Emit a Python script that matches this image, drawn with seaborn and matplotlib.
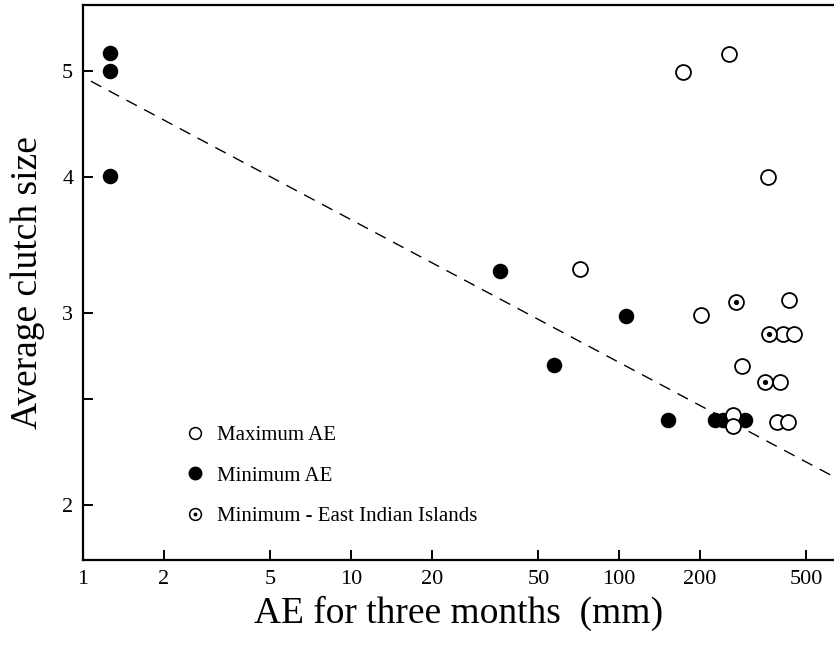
import matplotlib
matplotlib.use("Agg")
from matplotlib import pyplot as plt
from matplotlib.lines import Line2D
from matplotlib.ticker import NullLocator
import pandas as pd
import seaborn as sns

# values (AE in mm, clutch size)
max_ae = [257, 173, 360, 71.5, 202, 431, 409, 450, 288, 399, 266, 266, 389, 427]
max_clutch = [5.19, 4.99, 4.0, 3.29, 2.99, 3.08, 2.87, 2.87, 2.68, 2.59, 2.42, 2.36, 2.38, 2.38]
min_ae = [1.26, 1.26, 1.26, 36, 106, 57, 152, 228, 244, 295]
min_clutch = [5.20, 5.00, 4.01, 3.28, 2.98, 2.69, 2.39, 2.39, 2.39, 2.39]
ei_ae = [273, 363, 351]
ei_clutch = [3.07, 2.87, 2.59]

# fitted power line: clutch = a * AE^b
fit_a, fit_b = 4.94, -0.131
fit_x = [1.07, 634]

x_ticks = [1, 2, 5, 10, 20, 50, 100, 200, 500]
y_ticks = [2, 2.5, 3, 4, 5]
y_tick_labels = ["2", "", "3", "4", "5"]

df_max = pd.DataFrame({"ae": max_ae, "clutch": max_clutch})
df_min = pd.DataFrame({"ae": min_ae, "clutch": min_clutch})
df_ei = pd.DataFrame({"ae": ei_ae, "clutch": ei_clutch})
df_fit = pd.DataFrame({"ae": fit_x})
df_fit["clutch"] = fit_a * df_fit["ae"] ** fit_b

sns.set_style("ticks")
plt.rcParams["font.family"] = ["Liberation Serif", "DejaVu Serif"]
plt.rcParams["axes.labelcolor"] = "black"
plt.rcParams["text.color"] = "black"

fig = plt.figure(figsize=(8.34, 6.45), dpi=100)
ax = fig.add_axes([0.0995, 0.132, 0.9005, 0.860])

ax.plot(df_fit["ae"], df_fit["clutch"], color="black", lw=1.0,
        dashes=(8.5, 6), zorder=2)

sns.scatterplot(data=df_min, x="ae", y="clutch", ax=ax, s=125,
                color="black", edgecolor="black", linewidth=0, zorder=3)
sns.scatterplot(data=df_max, x="ae", y="clutch", ax=ax, s=115,
                color="white", edgecolor="black", linewidth=1.3, zorder=4)
sns.scatterplot(data=df_ei, x="ae", y="clutch", ax=ax, s=115,
                color="white", edgecolor="black", linewidth=1.3, zorder=4)
sns.scatterplot(data=df_ei, x="ae", y="clutch", ax=ax, s=14,
                color="black", edgecolor="black", linewidth=0, zorder=5)

ax.set_xscale("log")
ax.set_yscale("log")
ax.set_xlim(1, 634)
ax.set_ylim(1.78, 5.75)

ax.set_xticks(x_ticks)
ax.set_xticklabels([str(t) for t in x_ticks])
ax.set_yticks(y_ticks)
ax.set_yticklabels(y_tick_labels)
ax.xaxis.set_minor_locator(NullLocator())
ax.yaxis.set_minor_locator(NullLocator())
ax.tick_params(which="major", direction="in", length=7, width=1.4,
               labelsize=16, pad=7, colors="black")

for side in ["left", "bottom", "top"]:
    ax.spines[side].set_linewidth(1.6)
    ax.spines[side].set_color("black")
ax.spines["right"].set_visible(False)

ax.set_xlabel("AE for three months  (mm)", fontsize=27, labelpad=5)
ax.set_ylabel("Average clutch size", fontsize=27, labelpad=12)

h_max = Line2D([], [], ls="", marker="o", markersize=8.5, mfc="white",
               mec="black", mew=1.1)
h_min = Line2D([], [], ls="", marker="o", markersize=10, mfc="black",
               mec="black", mew=0)
h_ei_ring = Line2D([], [], ls="", marker="o", markersize=8.5, mfc="white",
                   mec="black", mew=1.1)
h_ei_dot = Line2D([], [], ls="", marker="o", markersize=2.8, mfc="black",
                  mec="black", mew=0)
ax.legend([h_max, h_min, (h_ei_ring, h_ei_dot)],
          ["Maximum AE", "Minimum AE", "Minimum - East Indian Islands"],
          loc="lower left", bbox_to_anchor=(0.11, 0.027), frameon=False,
          fontsize=15, labelspacing=1.0, handlelength=1.0, handletextpad=0.55)

fig.savefig("out.png", dpi=100)
